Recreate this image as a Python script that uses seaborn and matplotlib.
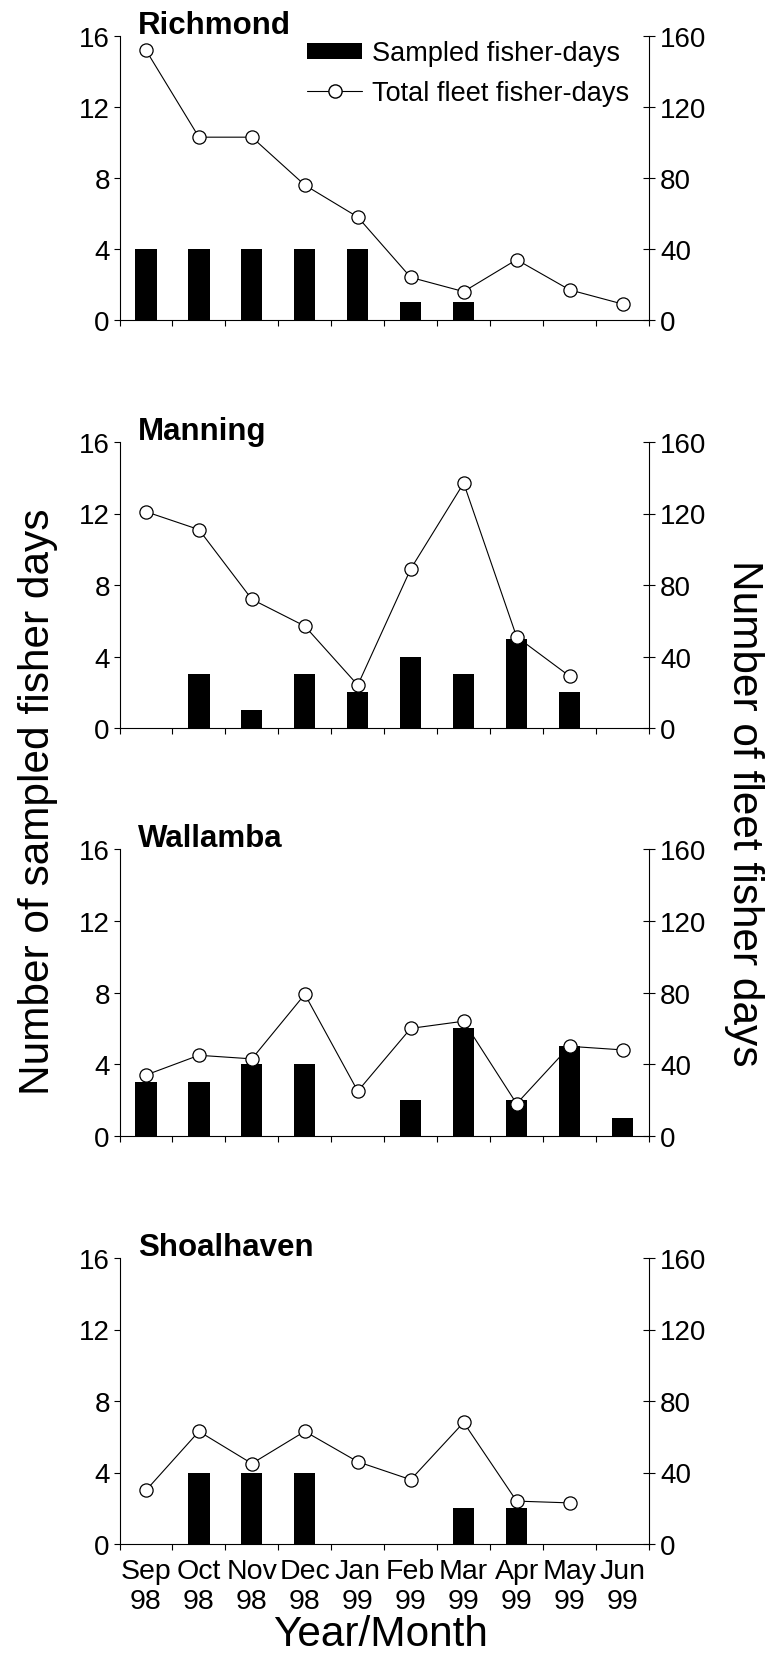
import numpy as np
import pandas as pd
import matplotlib
matplotlib.use("Agg")
import matplotlib.pyplot as plt
import seaborn as sns
from matplotlib.patches import Patch
from matplotlib.lines import Line2D

# data
months = ["Sep\n98", "Oct\n98", "Nov\n98", "Dec\n98", "Jan\n99",
          "Feb\n99", "Mar\n99", "Apr\n99", "May\n99", "Jun\n99"]
rivers = ["Richmond", "Manning", "Wallamba", "Shoalhaven"]

richmond_sampled = [4, 4, 4, 4, 4, 1, 1, 0, 0, 0]
richmond_fleet = [152, 103, 103, 76, 58, 24, 16, 34, 17, 9]
manning_sampled = [0, 3, 1, 3, 2, 4, 3, 5, 2, 0]
manning_fleet = [121, 111, 72, 57, 24, 89, 137, 51, 29, np.nan]
wallamba_sampled = [3, 3, 4, 4, 0, 2, 6, 2, 5, 1]
wallamba_fleet = [34, 45, 43, 79, 25, 60, 64, 18, 50, 48]
shoalhaven_sampled = [0, 4, 4, 4, 0, 0, 2, 2, 0, 0]
shoalhaven_fleet = [30, 63, 45, 63, 46, 36, 68, 24, 23, np.nan]

sampled = [richmond_sampled, manning_sampled, wallamba_sampled, shoalhaven_sampled]
fleet = [richmond_fleet, manning_fleet, wallamba_fleet, shoalhaven_fleet]

sns.set_style("ticks")
plt.rcParams["font.family"] = ["Liberation Sans", "DejaVu Sans"]
plt.rcParams["axes.linewidth"] = 0.8
for key in ["text.color", "axes.labelcolor", "xtick.color", "ytick.color", "axes.edgecolor"]:
    plt.rcParams[key] = "black"

fig = plt.figure(figsize=(7.66, 16.56), dpi=100)

H = 1656.0
W = 766.0
left_px, right_px = 119.5, 649.0
panels_px = [(37, 321), (443, 729), (850, 1137), (1259, 1545)]
tick_fs = 20

for i, (name, s, f) in enumerate(zip(rivers, sampled, fleet)):
    top, bot = panels_px[i]
    ax = fig.add_axes([left_px / W, 1 - bot / H, (right_px - left_px) / W, (bot - top) / H])
    df = pd.DataFrame({"month": months, "sampled": s, "fleet": f, "pos": np.arange(len(months))})

    sns.barplot(data=df, x="month", y="sampled", order=months, color="black",
                width=0.4, saturation=1, linewidth=0, ax=ax)
    ax.set_ylim(0, 16)
    ax.set_yticks([0, 4, 8, 12, 16])
    ax.set_xlim(-0.5, len(months) - 0.5)
    ax.set_xlabel("")
    ax.set_ylabel("")

    ax2 = ax.twinx()
    sns.lineplot(data=df.dropna(), x="pos", y="fleet", color="black", lw=0.8,
                 marker="o", markersize=9.5, markerfacecolor="white",
                 markeredgecolor="black", markeredgewidth=0.9, ax=ax2)
    ax2.set_ylim(0, 160)
    ax2.set_yticks([0, 40, 80, 120, 160])
    ax2.set_xlim(-0.5, len(months) - 0.5)
    ax2.set_ylabel("")

    for sp in ["top", "right"]:
        ax.spines[sp].set_visible(False)
    for sp in ["top", "left", "bottom"]:
        ax2.spines[sp].set_visible(False)
    ax2.spines["right"].set_visible(True)

    ax.tick_params(axis="y", direction="out", length=4, width=0.8,
                   labelsize=tick_fs, pad=3)
    ax2.tick_params(axis="y", direction="inout", length=8, width=0.8,
                    labelsize=tick_fs, pad=4)
    ax.set_xticks(np.arange(-0.5, len(months), 1), minor=True)
    ax.tick_params(axis="x", which="minor", direction="out", length=4, width=0.8)
    ax.tick_params(axis="x", which="major", length=0, labelsize=20.5, pad=10)
    if i < len(rivers) - 1:
        ax.set_xticklabels([])

    ax.text(0.035, 1.012, name, transform=ax.transAxes, fontsize=22.5,
            fontweight="bold", va="baseline", ha="left")

    if i == 0:
        handles = [Patch(facecolor="black", edgecolor="none"),
                   Line2D([], [], color="black", lw=0.8, marker="o", markersize=9.5,
                          markerfacecolor="white", markeredgecolor="black")]
        ax2.legend(handles, ["Sampled fisher-days", "Total fleet fisher-days"],
                   loc="upper left", bbox_to_anchor=(0.355, 0.985), frameon=False,
                   fontsize=19.5, handlelength=2.0, handleheight=0.55,
                   handletextpad=0.4, labelspacing=0.5, borderpad=0,
                   borderaxespad=0)

fig.text(38 / W, 1 - 802 / H, "Number of sampled fisher days", rotation=90,
         fontsize=30.5, ha="center", va="center")
fig.text(744 / W, 1 - 813 / H, "Number of fleet fisher days", rotation=270,
         fontsize=30.5, ha="center", va="center")
fig.text(381 / W, 0.5 / H, "Year/Month", fontsize=30.5, ha="center", va="bottom")

fig.savefig("out.png", dpi=100)
